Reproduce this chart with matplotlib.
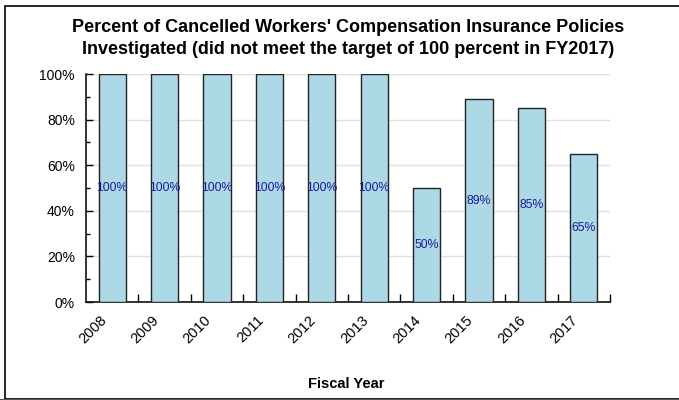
import matplotlib
matplotlib.use("Agg")
import matplotlib.pyplot as plt
from matplotlib.patches import Rectangle
import numpy as np

years = ["2008", "2009", "2010", "2011", "2012", "2013", "2014", "2015", "2016", "2017"]
values = [100, 100, 100, 100, 100, 100, 50, 89, 85, 65]
yticks = [0, 20, 40, 60, 80, 100]

plt.rcParams['font.family'] = ['Liberation Sans', 'DejaVu Sans']

fig = plt.figure(figsize=(6.79, 4.0), dpi=100)
fig.patches.append(Rectangle((5/679, 1-398.5/400), 1.2, 393/400, transform=fig.transFigure,
                             fill=False, edgecolor='black', linewidth=1.2))
fig.patches.append(Rectangle((0, 0), 1, 1.5/400, transform=fig.transFigure,
                             facecolor='#555555', edgecolor='none'))
ax = fig.add_axes([86/679, 1-302/400, 524/679, 228/400])

x = np.arange(len(years))
ax.bar(x, values, width=0.52, color='#add8e6', edgecolor='#222222', linewidth=1.0, zorder=3)
for xi, v in zip(x, values):
    ax.text(xi, v/2, f"{v}%", ha='center', va='center', fontsize=8.8, color='#1a1a99', zorder=4)

ax.set_xlim(-0.5, len(years)-0.5)
ax.set_ylim(0, 100)
ax.set_yticks(yticks)
ax.set_yticklabels([f"{t}%" for t in yticks], fontsize=10)
ax.set_yticks(np.arange(10, 100, 20), minor=True)
ax.tick_params(axis='y', which='major', direction='in', length=5, width=1, pad=8)
ax.tick_params(axis='y', which='minor', direction='in', length=3, width=1)

ax.set_xticks(list(np.arange(0.5, len(years)-0.5, 1.0)) + [len(years)-0.5])
ax.set_xticklabels([])
ax.set_xticks(x - 0.06, minor=True)
ax.set_xticklabels(years, minor=True, rotation=45, ha='right', fontsize=10.5)
ax.tick_params(axis='x', which='major', direction='in', length=6, width=1)
ax.tick_params(axis='x', which='minor', length=0, pad=8)

ax.grid(axis='y', color='#e0e0e0', linewidth=1, zorder=0)
ax.set_axisbelow(True)
for s in ['top', 'right']:
    ax.spines[s].set_visible(False)
for s in ['left', 'bottom']:
    ax.spines[s].set_linewidth(1.2)
    ax.spines[s].set_color('#111111')

fig.text(348/679, 1-28/400, "Percent of Cancelled Workers' Compensation Insurance Policies",
         ha='center', va='center', fontsize=13, fontweight='bold')
fig.text(348/679, 1-50/400, "Investigated (did not meet the target of 100 percent in FY2017)",
         ha='center', va='center', fontsize=13, fontweight='bold')
fig.text(346/679, 1-384.5/400, "Fiscal Year", ha='center', va='center', fontsize=10.5, fontweight='bold')

fig.savefig("out.png", dpi=100)
